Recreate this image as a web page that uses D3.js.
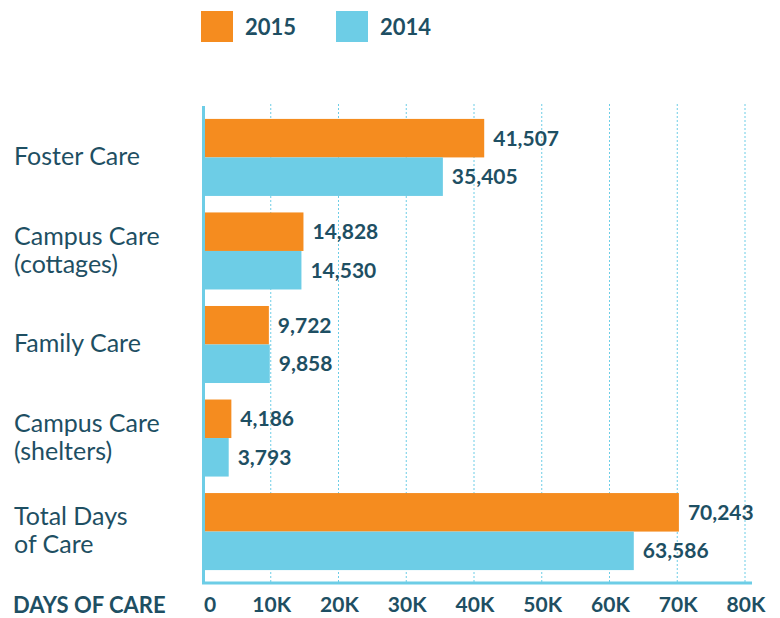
<!DOCTYPE html>
<html>
<head>
<meta charset="utf-8">
<script src="https://cdn.jsdelivr.net/npm/d3@7"></script>
<style>
  body { margin: 0; background: #fff; }
  text { font-family: Lato, "Open Sans", sans-serif; }
</style>
</head>
<body>
<div id="chart"></div>
<script>
// data
const categories = [
  ["Foster Care"],
  ["Campus Care", "(cottages)"],
  ["Family Care"],
  ["Campus Care", "(shelters)"],
  ["Total Days", "of Care"]
];
const years = ["2015", "2014"];
const values2015 = [41507, 14828, 9722, 4186, 70243];
const values2014 = [35405, 14530, 9858, 3793, 63586];
const ticks = [0, 10000, 20000, 30000, 40000, 50000, 60000, 70000, 80000];

const width = 780;
const height = 618;
const orange = "#f58c1f";
const blue = "#6dcde6";
const ink = "#1e4f63";

const svg = d3.select("#chart").append("svg")
  .attr("width", width)
  .attr("height", height);

// scales
const x = d3.scaleLinear()
  .domain([0, 80000])
  .range([203, 745]);

const y = d3.scaleBand()
  .domain(d3.range(categories.length))
  .range([106, 583])
  .paddingInner(0.1765)
  .paddingOuter(0.138);

const ySub = d3.scaleBand()
  .domain(years)
  .range([0, y.bandwidth()]);

const colour = d3.scaleOrdinal().domain(years).range([orange, blue]);

// dotted grid lines
svg.append("g")
  .selectAll("line")
  .data(ticks.slice(1))
  .enter().append("line")
  .attr("x1", d => x(d))
  .attr("x2", d => x(d))
  .attr("y1", 104)
  .attr("y2", 583)
  .attr("stroke", blue)
  .attr("stroke-width", 1)
  .attr("stroke-dasharray", "2,2");

// bars
const rows = categories.map((c, i) => ({
  i: i,
  label: c,
  vals: [{ year: "2015", v: values2015[i] }, { year: "2014", v: values2014[i] }]
}));

const group = svg.append("g")
  .selectAll("g")
  .data(rows)
  .enter().append("g")
  .attr("transform", d => `translate(0, ${y(d.i)})`);

group.selectAll("rect")
  .data(d => d.vals)
  .enter().append("rect")
  .attr("x", x(0))
  .attr("y", d => ySub(d.year))
  .attr("width", d => x(d.v) - x(0))
  .attr("height", ySub.bandwidth())
  .attr("fill", d => colour(d.year));

group.selectAll("text.value")
  .data(d => d.vals)
  .enter().append("text")
  .attr("class", "value")
  .attr("x", d => x(d.v) + 9)
  .attr("y", d => ySub(d.year) + ySub.bandwidth() / 2)
  .attr("dy", "0.35em")
  .attr("fill", ink)
  .style("font-size", "21px")
  .style("font-weight", "bold")
  .text(d => d3.format(",")(d.v));

// category labels
group.append("text")
  .attr("x", 14)
  .attr("fill", ink)
  .style("font-size", "25px")
  .each(function(d) {
    const n = d.label.length;
    d3.select(this).selectAll("tspan")
      .data(d.label)
      .enter().append("tspan")
      .attr("x", 14)
      .attr("y", (t, j) => y.bandwidth() / 2 - 1 + (j - (n - 1) / 2) * 28)
      .attr("dy", "0.35em")
      .text(t => t);
  });

// axis lines
svg.append("line")
  .attr("x1", 203.5).attr("x2", 203.5)
  .attr("y1", 106).attr("y2", 584)
  .attr("stroke", blue).attr("stroke-width", 3);

svg.append("line")
  .attr("x1", 202).attr("x2", 752)
  .attr("y1", 583).attr("y2", 583)
  .attr("stroke", blue).attr("stroke-width", 3);

// bottom axis labels
const axis = svg.append("g")
  .attr("transform", "translate(0, 605)");

axis.selectAll("text")
  .data(ticks)
  .enter().append("text")
  .attr("x", d => d === 0 ? x(d) + 7 : x(d) + 1)
  .attr("dy", "0.35em")
  .attr("text-anchor", "middle")
  .attr("fill", ink)
  .style("font-size", "21px")
  .style("font-weight", "bold")
  .text(d => d === 0 ? "0" : (d / 1000) + "K");

axis.append("text")
  .attr("x", 13)
  .attr("dy", "0.35em")
  .attr("fill", ink)
  .style("font-size", "22px")
  .style("font-weight", "bold")
  .text("DAYS OF CARE");

// legend
const legend = svg.append("g")
  .selectAll("g")
  .data(years)
  .enter().append("g")
  .attr("transform", (d, i) => `translate(${201 + i * 135}, 11)`);

legend.append("rect")
  .attr("width", 32)
  .attr("height", 31)
  .attr("fill", d => colour(d));

legend.append("text")
  .attr("x", 44)
  .attr("y", 16)
  .attr("dy", "0.35em")
  .attr("fill", ink)
  .style("font-size", "22px")
  .style("font-weight", "bold")
  .text(d => d);
</script>
</body>
</html>
